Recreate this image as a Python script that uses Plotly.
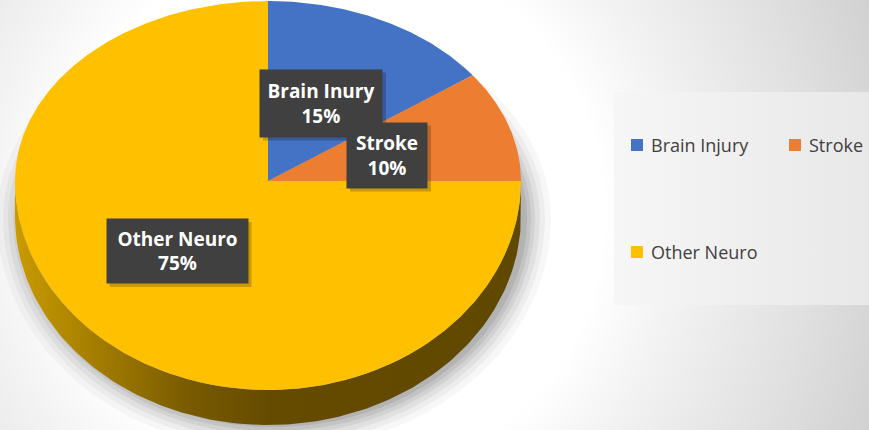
import numpy as np
import plotly.graph_objects as go

# ---- data ----
categories = ["Brain Injury", "Stroke", "Other Neuro"]
label_names = ["Brain Inury", "Stroke", "Other Neuro"]
values = [15, 10, 75]
colors = ["#4472c4", "#ed7d31", "#ffc000"]

# ---- geometry (pixel-like coordinates) ----
W, H = 869, 430
cx, cy = 268, 181
rx, ry_top, ry_bot = 253, 180, 209
depth = 35


def ell(theta_deg, dy=0.0, grow=0.0):
    t = np.radians(theta_deg)
    s = np.sin(t)
    ry = np.where(s >= 0, ry_top, ry_bot)
    return cx + (rx + grow) * np.cos(t), cy - (ry + grow) * s + dy


fig = go.Figure()

# background gradient
R = 620
gx, gy = 330, 215
fig.add_trace(go.Scatter(x=[gx - R, gx + R, gx + R, gx - R, gx - R],
                         y=[gy - R, gy - R, gy + R, gy + R, gy - R],
                         mode="lines", fill="toself", line=dict(width=0),
                         fillgradient=dict(type="radial",
                                           colorscale=[[0, "#ffffff"], [0.44, "#ffffff"], [0.56, "#f3f3f3"],
                                                       [0.78, "#e0e0e0"], [1, "#cbcbcb"]]),
                         hoverinfo="skip", showlegend=False))

# legend panel
fig.add_trace(go.Scatter(x=[614, W + 2, W + 2, 614, 614], y=[92, 92, 305, 305, 92],
                         mode="lines", fill="toself", line=dict(width=0),
                         fillgradient=dict(type="horizontal", colorscale=[[0, "#f6f6f6"], [1, "#e8e8e8"]]),
                         hoverinfo="skip", showlegend=False))

# soft shadow under the pie
th = np.linspace(0, 360, 241)
for g, a in [(24, 0.03), (18, 0.04), (13, 0.05), (8, 0.06), (4, 0.07), (0, 0.08)]:
    sx, sy = ell(th, dy=depth + 2, grow=g)
    fig.add_trace(go.Scatter(x=sx + 6, y=sy, mode="lines", fill="toself", line=dict(width=0),
                             fillcolor=f"rgba(0,0,0,{a})", hoverinfo="skip", showlegend=False))

# side wall (front half)
tf = np.linspace(180, 360, 181)
tx, ty = ell(tf)
bx2, by2 = ell(tf[::-1], dy=depth)
fig.add_trace(go.Scatter(x=np.concatenate([tx, bx2]), y=np.concatenate([ty, by2]),
                         mode="lines", fill="toself", line=dict(width=0),
                         fillgradient=dict(type="horizontal",
                                           colorscale=[[0, "#c99b00"], [0.15, "#a67f00"], [0.35, "#775a00"],
                                                       [0.5, "#654b00"], [1, "#604800"]]),
                         hoverinfo="skip", showlegend=False))

# top face slices
total = sum(values)
start = 90.0
for name, v, c in zip(categories, values, colors):
    span = 360.0 * v / total
    ts = np.linspace(start, start - span, max(int(span * 2), 4))
    px, py = ell(ts)
    fig.add_trace(go.Scatter(x=np.concatenate([[cx], px, [cx]]), y=np.concatenate([[cy], py, [cy]]),
                             mode="lines", fill="toself", fillcolor=c, line=dict(width=0, color=c),
                             name=name, hoverinfo="name", showlegend=False))
    start -= span

# data labels
label_pos = [(321, 103, 122, 67), (387, 155, 80, 65), (177, 251, 141, 64)]
for (lx, ly, bw, bh), nm, v in zip(label_pos, label_names, values):
    fig.add_shape(type="rect", x0=lx - bw / 2 + 3, x1=lx + bw / 2 + 4, y0=ly - bh / 2 + 3, y1=ly + bh / 2 + 4,
                  fillcolor="rgba(0,0,0,0.2)", line=dict(width=0), layer="above")
    fig.add_annotation(x=lx, y=ly, text=f"<b>{nm}<br>{v}%</b>", showarrow=False,
                       font=dict(family="Open Sans, sans-serif", size=19, color="white"),
                       bgcolor="#404040", width=bw, height=bh, borderpad=0, align="center",
                       xanchor="center", yanchor="middle")

# legend
leg_pos = [(631, 145), (789, 145), (631, 252)]
for (lx, ly), nm, c in zip(leg_pos, categories, colors):
    fig.add_shape(type="rect", x0=lx, x1=lx + 12, y0=ly - 6, y1=ly + 6, fillcolor=c, line=dict(width=0), layer="above")
    fig.add_annotation(x=lx + 18, y=ly, text=nm, showarrow=False, xanchor="left", yanchor="middle",
                       font=dict(family="Open Sans, sans-serif", size=18, color="#404040"))

fig.update_layout(width=W, height=H, margin=dict(l=0, r=0, t=0, b=0),
                  paper_bgcolor="white", plot_bgcolor="white",
                  xaxis=dict(range=[0, W], visible=False, fixedrange=True),
                  yaxis=dict(range=[H, 0], visible=False, fixedrange=True),
                  showlegend=False)

fig.write_html("out.html", config={"displayModeBar": False},
               post_script="document.body.style.margin='0';document.body.style.overflow='hidden';")
